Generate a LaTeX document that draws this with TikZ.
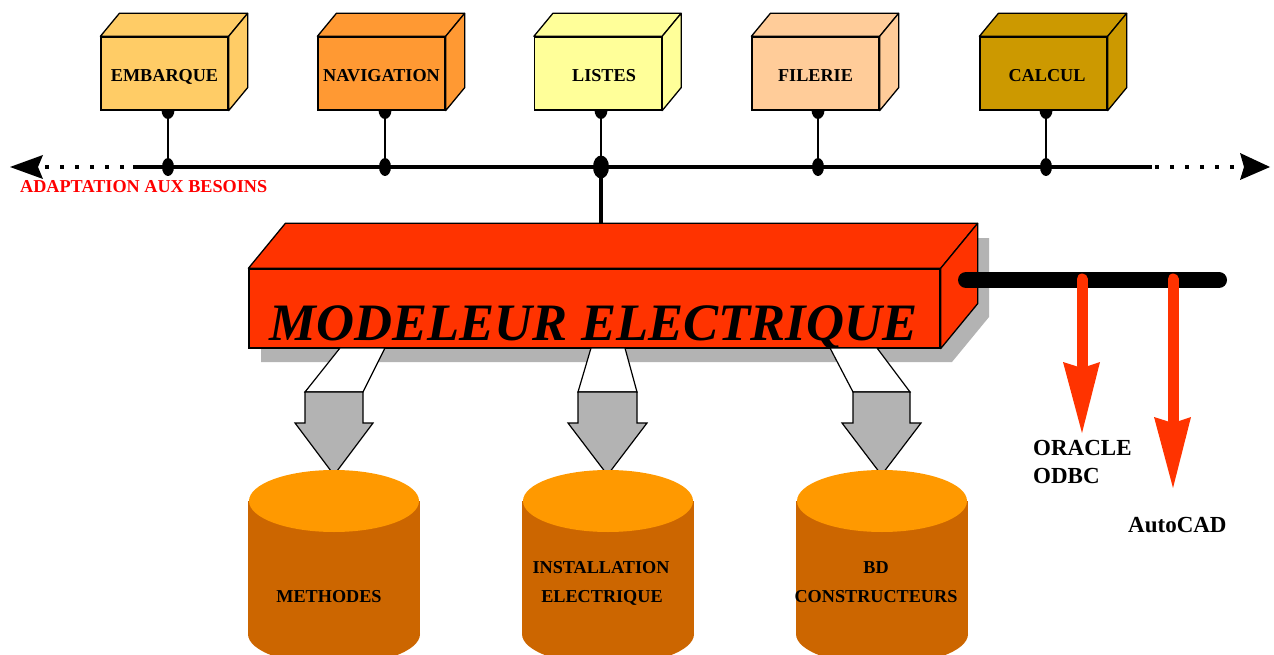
\documentclass[tikz,border=0pt]{standalone}
\usepackage{fontspec}
\setmainfont{Liberation Serif}
\definecolor{modred}{HTML}{FF3300}
\definecolor{cyltop}{HTML}{FF9900}
\definecolor{cylbody}{HTML}{CC6600}
\definecolor{shadowgray}{HTML}{B3B3B3}
\definecolor{cEmb}{HTML}{FFCC66}
\definecolor{cNav}{HTML}{FF9933}
\definecolor{cLis}{HTML}{FFFF99}
\definecolor{cFil}{HTML}{FFCC99}
\definecolor{cCal}{HTML}{CC9900}
\definecolor{adaptred}{HTML}{FF0000}
\newcommand\prismfaces[4]{%
  \filldraw[fill=#4, draw=black, line width=1.3, line join=round]
    (#1.north west) -- ++(#2,#3) -- ([shift={(#2,#3)}]#1.north east) -- (#1.north east) -- cycle;
  \filldraw[fill=#4, draw=black, line width=1.3, line join=round]
    (#1.north east) -- ++(#2,#3) -- ([shift={(#2,#3)}]#1.south east) -- (#1.south east) -- cycle;}
\newcommand\cylshape[1]{%
  \fill[cylbody] (#1-86,501) rectangle (#1+86,634);
  \fill[cylbody] (#1,634) ellipse [x radius=86, y radius=31];
  \fill[cyltop] (#1,501) ellipse [x radius=85, y radius=31];}
\newcommand\smallfont{\fontsize{18.2}{21}\selectfont\bfseries}
\begin{document}
\begin{tikzpicture}[x=1pt,y=-1pt,
  tbox/.style={draw=black, line width=1.3, minimum width=127, minimum height=73,
    inner sep=0pt, text height=17pt, text depth=0pt, font=\smallfont},
  stemline/.style={line width=1.5},
  busdot/.style={fill=black},
  blockarrow/.style={fill=shadowgray, draw=black, line width=1.2, line join=miter},
  linkquad/.style={fill=white, draw=black, line width=1.2},
  lbl/.style={inner sep=0pt, font=\smallfont},
  biglbl/.style={inner sep=0pt, font=\fontsize{23}{28}\selectfont\bfseries},
  redarrow/.style={fill=modred}
]
\useasboundingbox (0,0) rectangle (1274,655);

% ---------- bus ----------
\coordinate (busL) at (10,167);
\coordinate (busDL) at (45,167);
\coordinate (busS) at (133,167);
\coordinate (busE) at (1152,167);
\coordinate (busDR) at (1155,167);
\coordinate (busR) at (1270,167);
\draw[line width=3.5] (busS) -- (busE);
\draw[line width=4, dash pattern=on 4pt off 11pt] (busDL) -- (128,167);
\draw[line width=4, dash pattern=on 4pt off 11pt] (busDR) -- (1238,167);
\fill (busL) -- (43,155) -- (38,167) -- (43,179) -- cycle;
\fill (busR) -- (1240,153) -- (1244,167) -- (1240,180) -- cycle;

% stem coordinates
\coordinate (s1) at (168,110);   \coordinate (b1) at (168,167);
\coordinate (s2) at (385,110);   \coordinate (b2) at (385,167);
\coordinate (s3) at (601,110);   \coordinate (b3) at (601,167);
\coordinate (s4) at (818,110);   \coordinate (b4) at (818,167);
\coordinate (s5) at (1046,110);  \coordinate (b5) at (1046,167);
\coordinate (m3) at (601,224);

\foreach \i in {1,2,3,4,5} {
  \draw[stemline] (s\i) -- (b\i);
  \fill (s\i) ellipse [x radius=6.5, y radius=9];
}
\foreach \i in {1,2,4,5} {
  \fill (b\i) ellipse [x radius=6, y radius=9];
}
\draw[line width=3.5] (b3) -- (m3);
\fill (b3) ellipse [x radius=8, y radius=11.5];

% ---------- top boxes ----------
\node[tbox, fill=cEmb] (emb) at (164.5,73.5) {EMBARQUE};
\prismfaces{emb}{19}{-23}{cEmb}
\node[tbox, fill=cNav] (nav) at (381.5,73.5) {NAVIGATION};
\prismfaces{nav}{19}{-23}{cNav}
\node[tbox, fill=cLis] (lis) at (598,73.5) {\hspace*{12pt}LISTES};
\prismfaces{lis}{19}{-23}{cLis}
\node[tbox, fill=cFil] (fil) at (815.5,73.5) {FILERIE};
\prismfaces{fil}{19}{-23}{cFil}
\node[tbox, fill=cCal] (cal) at (1043.5,73.5) {\hspace*{7pt}CALCUL};
\prismfaces{cal}{19}{-23}{cCal}

\node[lbl, text=adaptred, anchor=base west] (adapt) at (20,193) {ADAPTATION AUX BESOINS};

% ---------- modeler ----------
\fill[shadowgray] (261,283) -- (298,238) -- (989,238) -- (989,317) -- (952,362) -- (261,362) -- cycle;
\node[draw=black, line width=1.3, fill=modred, minimum width=691, minimum height=79, inner sep=0pt]
  (mod) at (594.5,308.5) {};
\prismfaces{mod}{37}{-45}{modred}
\node[inner sep=0pt, anchor=base, font=\fontsize{52.6}{60}\selectfont\bfseries\itshape]
  (modtxt) at (593.5,340) {MODELEUR ELECTRIQUE};

% ---------- block arrows ----------
\filldraw[linkquad] (340,348) -- (385,348) -- (363,392) -- (305,392) -- cycle;
\filldraw[blockarrow] (305,392) -- (363,392) -- (363,423) -- (373,423) -- (334,475) -- (295,423) -- (305,423) -- cycle;
\filldraw[linkquad] (591,348) -- (625,348) -- (637,392) -- (578,392) -- cycle;
\filldraw[blockarrow] (578,392) -- (637,392) -- (637,423) -- (647,423) -- (607.5,475) -- (568,423) -- (578,423) -- cycle;
\filldraw[linkquad] (830,348) -- (877,348) -- (910,392) -- (853,392) -- cycle;
\filldraw[blockarrow] (853,392) -- (910,392) -- (910,423) -- (921,423) -- (881.5,475) -- (842,423) -- (853,423) -- cycle;

% ---------- cylinders ----------
\cylshape{334}
\cylshape{608}
\cylshape{882}
\node[lbl, anchor=base] (cyl1) at (329,602) {METHODES};
\node[lbl, anchor=base] (cyl2a) at (601,573) {INSTALLATION};
\node[lbl, anchor=base] (cyl2b) at (602,602) {ELECTRIQUE};
\node[lbl, anchor=base] (cyl3a) at (876,573) {BD};
\node[lbl, anchor=base] (cyl3b) at (876,602) {CONSTRUCTEURS};

% ---------- right bus ----------
\coordinate (rb1) at (966,280);
\coordinate (rb2) at (1219,280);
\coordinate (ra1) at (1082,279);
\coordinate (ra2) at (1173,279);
\draw[line width=16, line cap=round] (rb1) -- (rb2);
\draw[modred, line width=11, line cap=round] (ra1) -- (1082,366);
\fill[redarrow] (1063,362) -- (1082,368) -- (1100,362) -- (1082,433) -- cycle;
\draw[modred, line width=11, line cap=round] (ra2) -- (1173,421);
\fill[redarrow] (1154,417) -- (1173,423) -- (1191,417) -- (1173,488) -- cycle;

\node[biglbl, anchor=base west] (ora) at (1033,455) {ORACLE};
\node[biglbl, anchor=base west] (odbc) at (1033,483) {ODBC};
\node[biglbl, anchor=base west] (acad) at (1128,532) {AutoCAD};
\end{tikzpicture}
\end{document}
